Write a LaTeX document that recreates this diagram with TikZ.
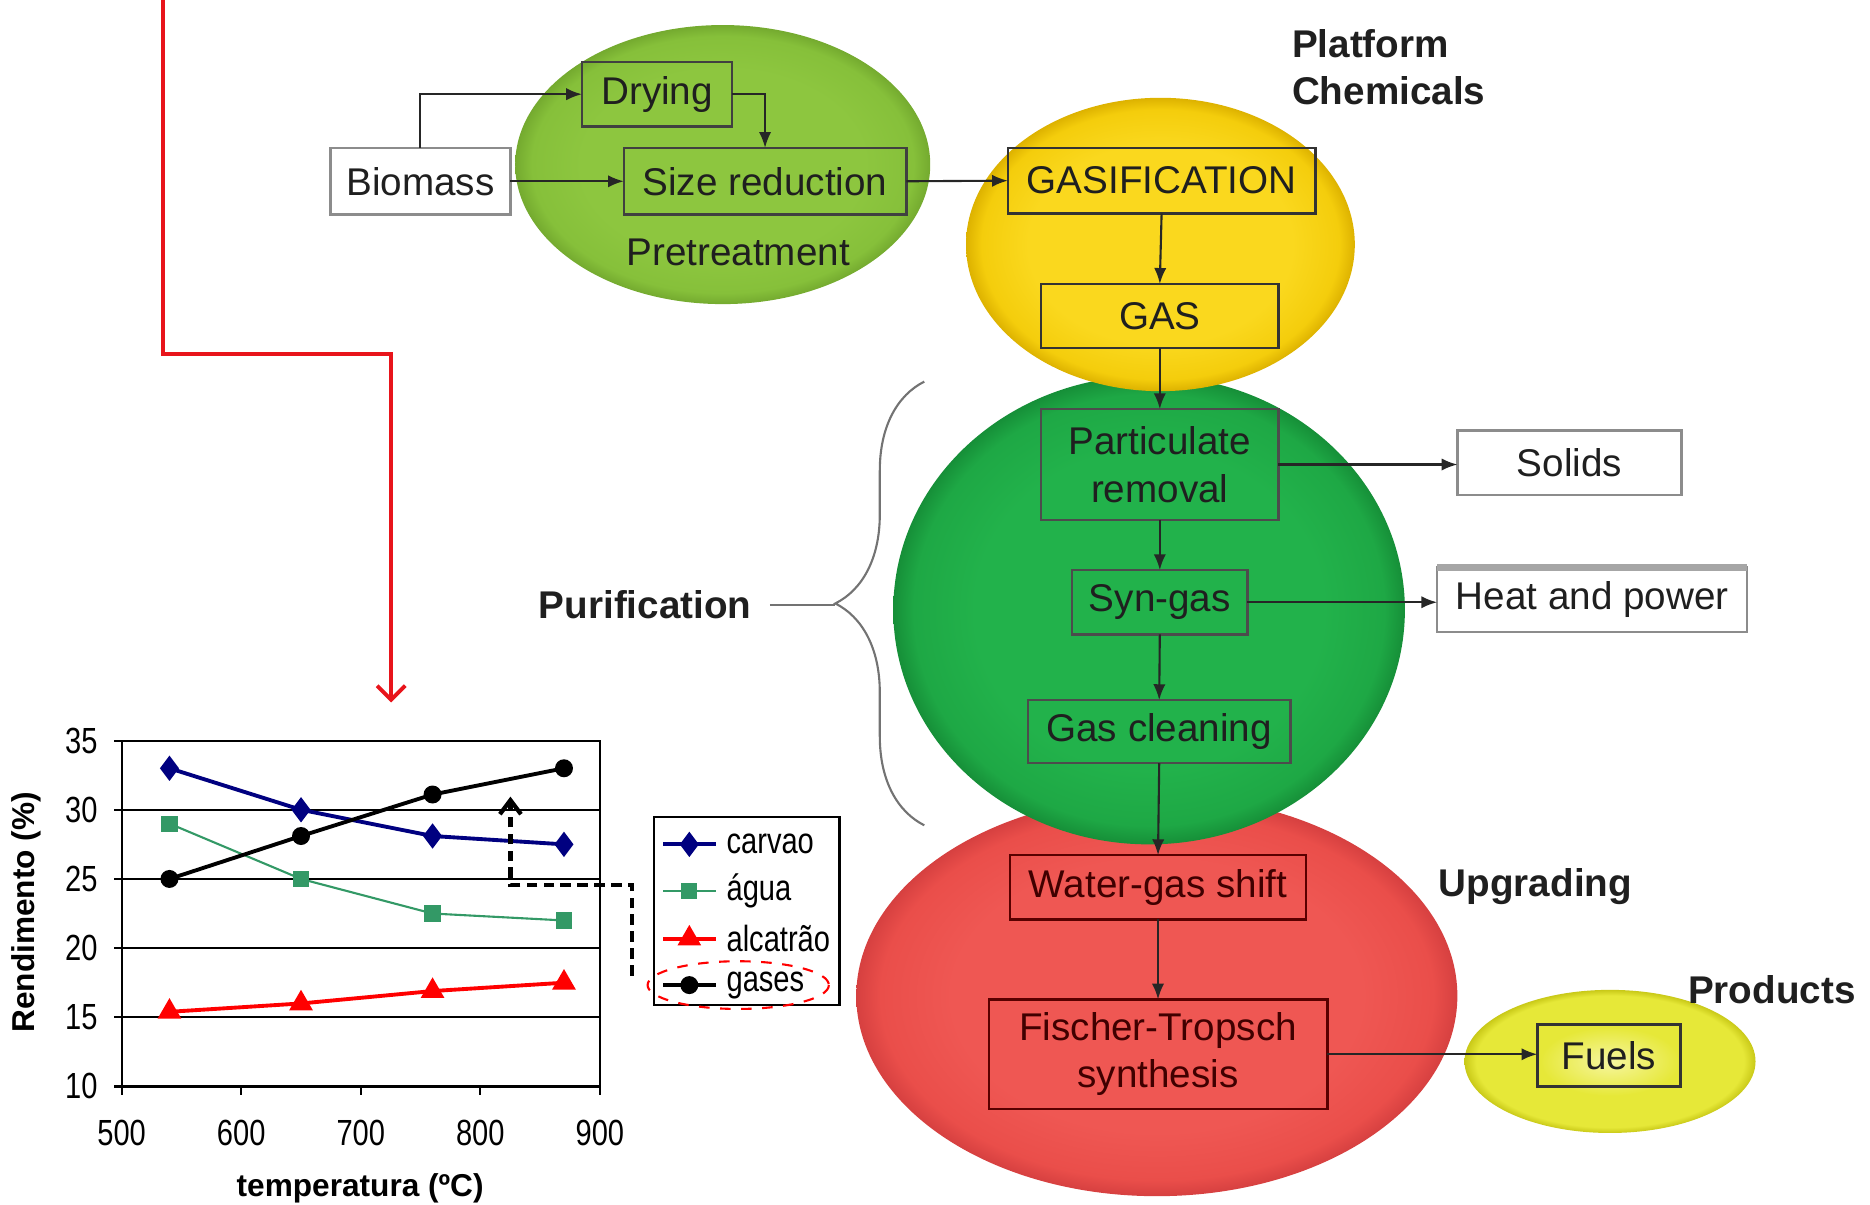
\documentclass[tikz,border=0pt]{standalone}
\usepackage{fontspec}
\setmainfont{Liberation Sans}
\usetikzlibrary{arrows.meta,decorations.pathreplacing,plotmarks}
\definecolor{lgA}{HTML}{8DC63F}\definecolor{lgB}{HTML}{86C03A}\definecolor{lgC}{HTML}{74AA2F}
\definecolor{yeA}{HTML}{FAD81E}\definecolor{yeB}{HTML}{F4CD0C}\definecolor{yeC}{HTML}{DDB200}
\definecolor{dgA}{HTML}{22B24B}\definecolor{dgB}{HTML}{1EA845}\definecolor{dgC}{HTML}{168F38}
\definecolor{rdA}{HTML}{EF5753}\definecolor{rdB}{HTML}{EA4E4A}\definecolor{rdC}{HTML}{D64040}
\definecolor{syA}{HTML}{F6F6A0}\definecolor{syB}{HTML}{E6E838}\definecolor{syC}{HTML}{C9C918}
\definecolor{navyc}{HTML}{000080}\definecolor{aguac}{HTML}{339966}\definecolor{redline}{HTML}{E8141B}
\pgfdeclareradialshading{lgshade}{\pgfpoint{0bp}{0bp}}{color(0bp)=(lgA); color(17bp)=(lgA); color(23bp)=(lgB); color(25bp)=(lgC); color(50bp)=(lgC)}
\pgfdeclareradialshading{yeshade}{\pgfpoint{0bp}{0bp}}{color(0bp)=(yeA); color(17bp)=(yeA); color(23bp)=(yeB); color(25bp)=(yeC); color(50bp)=(yeC)}
\pgfdeclareradialshading{dgshade}{\pgfpoint{0bp}{0bp}}{color(0bp)=(dgA); color(17bp)=(dgA); color(23bp)=(dgB); color(25bp)=(dgC); color(50bp)=(dgC)}
\pgfdeclareradialshading{rdshade}{\pgfpoint{0bp}{0bp}}{color(0bp)=(rdA); color(17bp)=(rdA); color(23bp)=(rdB); color(25bp)=(rdC); color(50bp)=(rdC)}
\pgfdeclareradialshading{syshade}{\pgfpoint{0bp}{0bp}}{color(0bp)=(syA); color(12bp)=(syB); color(23bp)=(syB); color(25bp)=(syC); color(50bp)=(syC)}
\begin{document}
\begin{tikzpicture}[x=0.011926cm,y=-0.011926cm,
  proc/.style={draw, rectangle, inner sep=0pt, outer sep=0pt, align=center,
    font=\fontsize{11}{13.5}\selectfont, text=black!88, line width=0.7pt},
  whitebox/.style={proc, fill=white, draw=black!45},
  lgbox/.style={proc, draw=black!75},
  yebox/.style={proc, draw=black!80},
  dgbox/.style={proc, draw=black!70},
  rdbox/.style={proc, draw=red!35!black, text=red!25!black},
  sybox/.style={proc, draw=black!80},
  arr/.style={-{Latex[length=4.5pt,width=3.5pt]}, line width=0.6pt, black!85},
  lbl/.style={font=\fontsize{11}{13.5}\selectfont\bfseries, text=black!88},
  chartfont/.style={font=\fontsize{9}{11}\selectfont, xscale=0.92, yscale=1.15, inner sep=1pt},
  axlbl/.style={font=\fontsize{9}{11}\selectfont\bfseries},
  carv/.style={navyc, line width=1.1pt, mark=diamond*, mark size=2.7pt, mark options={fill=navyc}},
  agua/.style={aguac, line width=0.6pt, mark=square*, mark size=2pt, mark options={fill=aguac}},
  alca/.style={red, line width=1.1pt, mark=triangle*, mark size=2.8pt, mark options={fill=red}},
  gase/.style={black, line width=1.1pt, mark=*, mark size=2pt}]
\useasboundingbox (0,0) rectangle (1568,1010);

% ---- coloured discs
\shade[shading=lgshade] (606,138) ellipse [x radius=174, y radius=117];
\shade[shading=rdshade] (970,835) ellipse [x radius=252, y radius=168];
\shade[shading=dgshade] (963.5,511.5) ellipse [x radius=214.5, y radius=196.5];
\shade[shading=yeshade] (973,205) ellipse [x radius=163, y radius=123];
\shade[shading=syshade] (1350,890) ellipse [x radius=122, y radius=60];

% ---- process boxes
\node[whitebox, minimum width=1.80cm, minimum height=0.668cm] (bio) at (352.5,152) {Biomass};
\node[lgbox, minimum width=1.503cm, minimum height=0.644cm] (dry) at (551,79) {Drying};
\node[lgbox, minimum width=2.826cm, minimum height=0.668cm] (size) at (641.5,152) {Size reduction};
\node[font=\fontsize{11}{13}\selectfont, text=black!88] (pre) at (619,212) {Pretreatment};
\node[yebox, minimum width=3.077cm, minimum height=0.656cm] (gasif) at (974,151.5) {GASIFICATION};
\node[yebox, minimum width=2.373cm, minimum height=0.644cm] (gas) at (972.5,265) {GAS};
\node[dgbox, minimum width=2.373cm, minimum height=1.109cm] (part) at (972.5,389.5) {Particulate\\removal};
\node[whitebox, minimum width=2.242cm, minimum height=0.644cm] (sol) at (1316,388) {Solids};
\node[dgbox, minimum width=1.753cm, minimum height=0.644cm] (syn) at (972.5,505) {Syn-gas};
\node[whitebox, minimum width=3.101cm, minimum height=0.644cm] (heat) at (1335,503) {Heat and power};
\draw[black!35, line width=2pt] (heat.north west) -- (heat.north east);
\node[dgbox, minimum width=2.624cm, minimum height=0.632cm] (clean) at (972,613.5) {Gas cleaning};
\node[rdbox, minimum width=2.958cm, minimum height=0.644cm] (wgs) at (971,744) {Water-gas shift};
\node[rdbox, minimum width=3.387cm, minimum height=1.097cm] (ft) at (971,884) {Fischer-Tropsch\\synthesis};
\node[sybox, minimum width=1.431cm, minimum height=0.620cm] (fuel) at (1349,885) {Fuels};

% ---- stage labels
\node[lbl, align=left, anchor=west] (plat) at (1073,56.5) {Platform\\Chemicals};
\node[lbl, anchor=west] (upg) at (1196,743) {Upgrading};
\node[lbl, anchor=west] (prod) at (1405,830) {Products};
\node[lbl] (pur) at (541,507) {Purification};
\coordinate (btop) at (775,320);
\coordinate (bbot) at (775,692);
\coordinate (btip) at (700,507);
\draw[black!55, line width=0.6pt, decorate, decoration={brace, amplitude=0.89cm}] (bbot) -- (btop);
\draw[black!55, line width=0.6pt] (pur.east) ++(5,0) -- (btip);

% ---- connectors
\draw[arr] (bio.north) |- (dry.west);
\draw[arr] (dry.east) -| (size.north);
\draw[arr] (bio.east) -- (size.west);
\draw[arr] (size.east) -- (gasif.west);
\draw[arr] (gasif.south) -- (gas.north);
\draw[arr] (gas.south) -- (part.north);
\draw[arr] (part.east) -- (part.east -| sol.west);
\draw[arr] (part.south) -- (syn.north);
\draw[arr] (syn.east) -- (syn.east -| heat.west);
\draw[arr] (syn.south) -- (clean.north);
\draw[arr] (clean.south) -- (wgs.north);
\draw[arr] (wgs.south) -- (ft.north);
\draw[arr] (ft.east) -- (ft.east -| fuel.west);

% ---- red pointer
\coordinate (rtop) at (137,0);
\coordinate (rtip) at (328,589);
\draw[redline, line width=1.1pt, -{Straight Barb[length=4pt,width=8pt]}] (rtop) |- (328,297) -- (rtip);

% ---- chart
\draw[line width=0.6pt] (102,621) rectangle (503,911);
\foreach \v in {15,20,25,30} \draw[line width=0.6pt] (102,{911-(\v-10)*11.6}) -- (503,{911-(\v-10)*11.6});
\foreach \v in {10,15,...,35} {
  \draw[line width=0.6pt] (96,{911-(\v-10)*11.6}) -- (102,{911-(\v-10)*11.6});
  \node[chartfont, anchor=east] (yl\v) at (85,{911-(\v-10)*11.6}) {\v};
}
\foreach \t in {500,600,...,900} {
  \draw[line width=0.6pt] ({102+(\t-500)*1.0025},911) -- ({102+(\t-500)*1.0025},918);
  \node[chartfont] (xl\t) at ({102+(\t-500)*1.0025},950) {\t};
}
\node[axlbl, rotate=90] (ylab) at (22,765) {Rendimento (\%)};
\node[axlbl] (xlab) at (302,996) {temperatura (ºC)};

\draw[carv] plot coordinates {(142.1,644.2) (252.4,679) (362.7,701) (472.9,708)};
\draw[agua] plot coordinates {(142.1,690.6) (252.4,737) (362.7,766) (472.9,771.8)};
\draw[alca] plot coordinates {(142.1,848.4) (252.4,841.4) (362.7,831) (472.9,824)};
\draw[gase] plot coordinates {(142.1,737) (252.4,701) (362.7,666.2) (472.9,644.2)};

% legend
\node[draw, line width=0.6pt, minimum width=1.860cm, minimum height=1.884cm, inner sep=0pt] (leg) at (626,764) {};
\foreach \s/\yy in {carv/708, agua/747, alca/787, gase/826} {
  \draw[\s, mark=none] (556,\yy) -- (600,\yy);
  \path[\s] plot coordinates {(578,\yy)};
}
\node[chartfont, anchor=west] (lc) at (606,708) {carvao};
\node[chartfont, anchor=west] (la) at (606,747) {água};
\node[chartfont, anchor=west] (lt) at (606,787) {alcatrão};
\node[chartfont, anchor=west] (lg) at (606,826) {gases};
\draw[red, dashed, line width=0.6pt] (619,826) ellipse [x radius=76, y radius=20];

% dashed pointer
\coordinate (da1) at (530,818);
\coordinate (da2) at (428,668);
\draw[black, line width=1.2pt, dash pattern=on 3pt off 1.8pt, -{Straight Barb[length=4pt,width=6pt]}] (da1) -- ++(0,-76) -| (da2);
\end{tikzpicture}
\end{document}
